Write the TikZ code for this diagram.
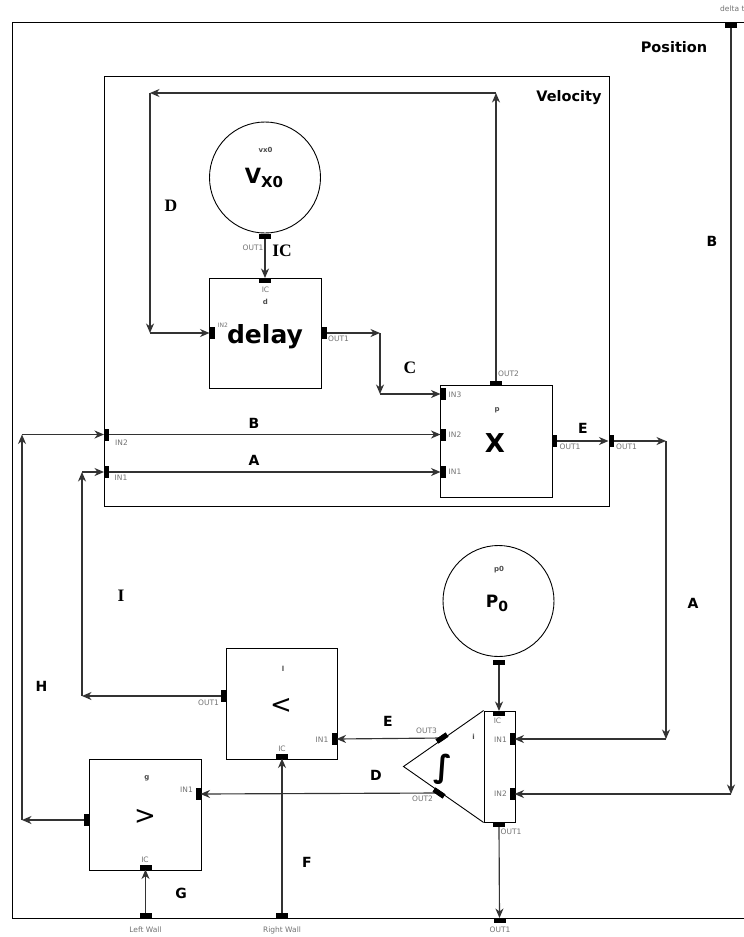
\documentclass[tikz,border=0pt]{standalone}
\usepackage{fontspec}
\setmainfont{DejaVu Sans}
\newfontfamily\serifb{Liberation Serif}
\usetikzlibrary{arrows.meta}
\begin{document}
\begin{tikzpicture}[x=1pt,y=-1pt,
  wire/.style={draw=black!80, line width=1.15pt, -{Stealth[length=9.5pt,width=8pt,inset=3pt]}},
  hport/.style={fill=black, minimum width=12pt, minimum height=5pt, inner sep=0pt, outer sep=0pt},
  vport/.style={fill=black, minimum width=5pt, minimum height=12pt, inner sep=0pt, outer sep=0pt},
  plab/.style={text=black!55, font=\fontsize{7.5}{8}\selectfont, inner sep=0pt},
  nlab/.style={text=black!70, font=\fontsize{7}{8}\selectfont\bfseries, inner sep=0pt},
  sl/.style={font=\fontsize{14}{16}\selectfont\bfseries, inner sep=0pt},
  rl/.style={font=\fontsize{17.5}{19}\selectfont\serifb\bfseries, inner sep=0pt},
  blk/.style={draw=black, line width=0.9pt, minimum width=112pt, minimum height=111pt, inner sep=0pt},
  ring/.style={draw=black, line width=0.9pt, circle, minimum size=111pt, inner sep=0pt},
  frame/.style={draw=black, line width=1pt}
]
\useasboundingbox (0,0) rectangle (744,937);
\fill[white] (0,0) rectangle (744,937);

% frames
\draw[frame] (750,22) -- (12,22) -- (12,918) -- (750,918);
\draw[frame] (104,76) rectangle (609,506);
\node[sl, font=\fontsize{14.5}{16}\selectfont\bfseries] (tpos) at (674,47) {Position};
\node[sl, font=\fontsize{14.5}{16}\selectfont\bfseries] (tvel) at (569,98) {Velocity};

% blocks
\node[ring] (vx0) at (265,177.5) {};
\node[blk, minimum height=110pt] (d) at (265,333) {};
\node[blk, minimum height=112pt] (p) at (496,441) {};
\node[blk, minimum width=111pt] (l) at (281.5,703.5) {};
\node[blk] (g) at (145,815) {};
\node[ring] (p0) at (498.5,601) {};
\node[draw=black, line width=0.9pt, minimum width=31pt, minimum height=111pt, inner sep=0pt] (i) at (499.5,766.5) {};
\coordinate (itip) at (403.5,766.5);
\draw[line width=0.9pt] (i.north west) -- (itip) -- (i.south west);

% block texts
\node[nlab] (tvx0) at (265.5,149.5) {vx0};
\node[inner sep=0pt, font=\bfseries] (tV) at (264,178) {{\fontsize{21}{24}\selectfont V}\raisebox{-4pt}{\fontsize{15}{18}\selectfont X0}};
\node[nlab] (td) at (265.5,301.5) {d};
\node[inner sep=0pt, font=\fontsize{25}{28}\selectfont\bfseries] (tdelay) at (265,337) {delay};
\node[nlab] (tp) at (497,410.5) {p};
\node[inner sep=0pt, font=\fontsize{26}{28}\selectfont\bfseries] (tX) at (495,443) {X};
\node[nlab] (tl) at (283,669) {l};
\node[inner sep=0pt, font=\fontsize{26}{28}\selectfont] (tlt) at (281,706) {<};
\node[nlab] (tg) at (147,778.5) {g};
\node[inner sep=0pt, font=\fontsize{26}{28}\selectfont] (tgt) at (145,816.5) {>};
\node[nlab] (tp0) at (499,569.5) {p0};
\node[inner sep=0pt, font=\fontsize{17}{20}\selectfont\bfseries] (tP) at (497,603) {P\raisebox{-4pt}{\fontsize{14}{16}\selectfont 0}};
\node[nlab] (ti) at (473.5,737) {i};
\node[inner sep=0pt, font=\fontsize{31}{34}\selectfont\bfseries] (tint) at (443,769) {∫};

% connector corners
\coordinate (c1) at (380,333);
\coordinate (c2) at (380,394);
\coordinate (c3) at (496,93);
\coordinate (c4) at (150,93);
\coordinate (c5) at (150,333);
\coordinate (c6) at (666,441);
\coordinate (c7) at (666,739);
\coordinate (c8) at (731,794);
\coordinate (c9) at (82,696);
\coordinate (c10) at (82,472);
\coordinate (c11) at (22,820);
\coordinate (c12) at (22,434.5);

% ports (positions)
\node[hport] (vxout) at (265,236) {};
\node[hport] (dic) at (265,280.5) {};
\node[vport] (din2) at (212,333) {};
\node[vport] (dout) at (324,333) {};
\node[vport] (pin3) at (443,394) {};
\node[vport] (pin2) at (443,434.5) {};
\node[vport] (pin1) at (443,472) {};
\node[hport] (pout2) at (496,383.5) {};
\node[vport] (pout1) at (554.5,441) {};
\node[vport] (vout) at (611,441) {};
\node[vport] (vin2) at (106.5,434.5) {};
\node[vport] (vin1) at (106.5,472) {};
\node[vport] (lout) at (223,696) {};
\node[vport] (lin1) at (334,739) {};
\node[hport] (lic) at (282,756) {};
\node[vport] (gin1) at (198,794) {};
\node[vport] (gout) at (86.5,820) {};
\node[hport] (gic) at (145.5,867) {};
\node[hport] (lw) at (145.5,915) {};
\node[hport] (rw) at (282,915) {};
\node[hport] (bout) at (499.5,920.5) {};
\node[hport] (dt) at (731,25) {};
\node[hport] (p0out) at (499,662) {};
\node[hport] (iic) at (499,713.5) {};
\node[vport] (iin1) at (512,739) {};
\node[vport] (iin2) at (512,794) {};
\node[hport] (iout1) at (499,824.5) {};
\node[hport, rotate=34.5] (iout3) at (442,738) {};
\node[hport, rotate=-34.5] (iout2) at (439,793) {};

% connectors
\draw[wire] (vxout.south) -- (dic.north);
\draw[wire] (dout.east) -- (c1);
\draw[wire] (c1) -- (c2);
\draw[wire] (c2) -- (pin3.west);
\draw[wire] (pout2.north) -- (c3);
\draw[wire] (c3) -- (c4);
\draw[wire] (c4) -- (c5);
\draw[wire] (c5) -- (din2.west);
\draw[wire] (vin2.east) -- (pin2.west);
\draw[wire] (vin1.east) -- (pin1.west);
\draw[wire] (pout1.east) -- (vout.west);
\draw[wire] (vout.east) -- (c6);
\draw[wire] (c6) -- (c7);
\draw[wire] (c7) -- (iin1.east);
\draw[wire] (dt.south) -- (c8);
\draw[wire] (c8) -- (iin2.east);
\draw[wire] (p0out.south) -- (iic.north);
\draw[wire] (iout1.south) -- (bout.north);
\draw[wire] (iout3.center) -- (lin1.east);
\draw[wire] (iout2.center) -- (gin1.east);
\draw[wire] (lout.west) -- (c9);
\draw[wire] (c9) -- (c10);
\draw[wire] (c10) -- (vin1.west);
\draw[wire] (gout.west) -- (c11);
\draw[wire] (c11) -- (c12);
\draw[wire] (c12) -- (vin2.west);
\draw[wire] (lw.north) -- (gic.south);
\draw[wire] (rw.north) -- (lic.south);

% redraw ports on top of wires
\foreach \n in {vxout,dic,pout2,lic,gic,lw,rw,bout,dt,p0out,iic,iout1}
  \fill[black] (\n.south west) rectangle (\n.north east);
\foreach \n in {din2,dout,pin3,pin2,pin1,pout1,vout,vin2,vin1,lout,lin1,gin1,gout,iin1,iin2}
  \fill[black] (\n.south west) rectangle (\n.north east);
\node[hport, rotate=34.5] at (iout3.center) {};
\node[hport, rotate=-34.5] at (iout2.center) {};

% port labels
\node[plab] (lb1) at (253,248) {OUT1};
\node[plab] (lb2) at (265.5,290) {IC};
\node[plab, font=\fontsize{6}{7}\selectfont] (lb3) at (223,325) {IN2};
\node[plab] (lb4) at (338.5,339) {OUT1};
\node[plab] (lb5) at (508.5,373.5) {OUT2};
\node[plab] (lb6) at (455,395) {IN3};
\node[plab] (lb7) at (455,434.5) {IN2};
\node[plab] (lb8) at (455,472) {IN1};
\node[plab] (lb9) at (570,446.5) {OUT1};
\node[plab] (lb10) at (626.5,447) {OUT1};
\node[plab] (lb11) at (121.5,442.5) {IN2};
\node[plab] (lb12) at (121,477.5) {IN1};
\node[plab] (lb13) at (208.5,702.5) {OUT1};
\node[plab] (lb14) at (322,739.5) {IN1};
\node[plab] (lb15) at (282,748.5) {IC};
\node[plab] (lb16) at (186.5,790) {IN1};
\node[plab] (lb17) at (145,860) {IC};
\node[plab] (lb18) at (145.5,930) {Left Wall};
\node[plab] (lb19) at (282,930) {Right Wall};
\node[plab] (lb20) at (500,930) {OUT1};
\node[plab] (lb21) at (497.5,721) {IC};
\node[plab] (lb22) at (500.5,740) {IN1};
\node[plab] (lb23) at (500.5,793.5) {IN2};
\node[plab] (lb24) at (426.5,731) {OUT3};
\node[plab] (lb25) at (422.5,798.5) {OUT2};
\node[plab] (lb26) at (511,831.5) {OUT1};
\node[plab, anchor=west] (lb27) at (720,9) {delta t};

% connector labels
\node[rl] (eD1) at (171,206) {D};
\node[rl] (eIC) at (282,251) {IC};
\node[rl] (eC) at (410,368) {C};
\node[rl] (eI) at (121,596) {I};
\node[sl] (eB1) at (254,423) {B};
\node[sl] (eA1) at (254,460) {A};
\node[sl] (eE1) at (583,428) {E};
\node[sl] (eB2) at (712,241) {B};
\node[sl] (eA2) at (693,603) {A};
\node[sl] (eH) at (41.5,686) {H};
\node[sl] (eE2) at (388,721) {E};
\node[sl] (eD2) at (376,775) {D};
\node[sl] (eG) at (181,893) {G};
\node[sl] (eF) at (307,862.5) {F};
\end{tikzpicture}
\end{document}
